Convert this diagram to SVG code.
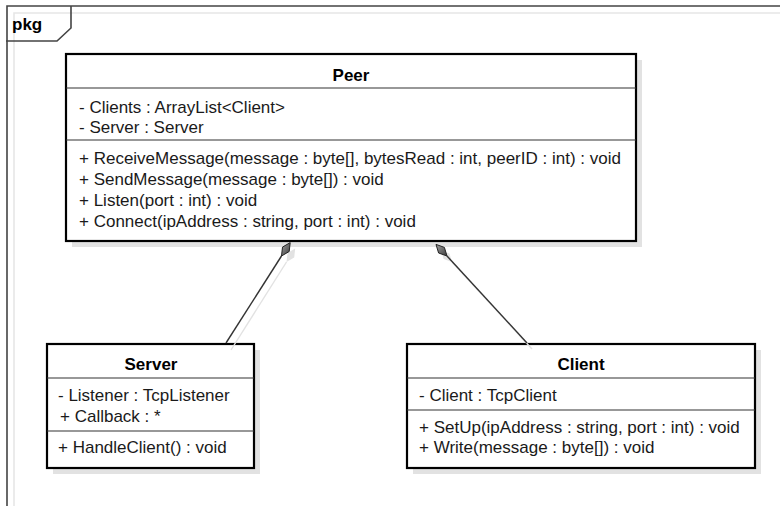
<svg xmlns="http://www.w3.org/2000/svg" width="780" height="506" viewBox="0 0 780 506">
  <style>
    .shadow { fill: #e2e2e2; stroke: none; }
    .box { fill: #ffffff; stroke: #000000; stroke-width: 2.2; }
    .div { stroke: #333333; stroke-width: 1.2; }
    .title { font-family: "Liberation Sans", Arial, sans-serif; font-size: 17px; font-weight: bold; fill: #000; text-anchor: middle; }
    .member { font-family: "Liberation Sans", Arial, sans-serif; font-size: 17px; fill: #1a1a1a; }
    .frame { fill: none; stroke: #444444; stroke-width: 1.6; }
    .frame-shadow { fill: none; stroke: #e6e6e6; stroke-width: 1.6; }
    .assoc { stroke: #333333; stroke-width: 1.4; fill: none; }
    .assoc-shadow { stroke: #e2e2e2; stroke-width: 1.4; fill: none; }
    .diamond { fill: url(#diamondFill); stroke: #222222; stroke-width: 1; }
    .diamond-shadow { fill: #e2e2e2; stroke: none; }
  </style>
  <defs>
    <linearGradient id="diamondFill" x1="0" y1="0" x2="1" y2="1">
      <stop offset="0" stop-color="#a0a0a0"/>
      <stop offset="1" stop-color="#3a3a3a"/>
    </linearGradient>
  </defs>

  <rect width="780" height="506" fill="#ffffff"/>

  <!-- package frame -->
  <g id="package">
    <path class="frame-shadow" d="M14,520 V13 H790"/>
    <path class="frame" d="M7,520 V6 H790"/>
    <path class="frame" d="M6,41 H57 L71,28 V6"/>
    <text x="12" y="30" style="font-family:'Liberation Sans',Arial,sans-serif;font-size:17px;font-weight:bold;fill:#000">pkg</text>
  </g>

  <!-- Peer -->
  <g id="peer">
    <rect class="shadow" x="72" y="60" width="570" height="187"/>
    <rect class="box" x="66" y="54" width="570" height="187"/>
    <line class="div" x1="66" y1="88" x2="636" y2="88"/>
    <line class="div" x1="66" y1="140" x2="636" y2="140"/>
    <text class="title" x="351" y="80.5">Peer</text>
    <text class="member" x="79" y="112.5">- Clients : ArrayList&lt;Client&gt;</text>
    <text class="member" x="79" y="133">- Server : Server</text>
    <text class="member" x="79" y="163.5">+ ReceiveMessage(message : byte[], bytesRead : int, peerID : int) : void</text>
    <text class="member" x="79" y="184.5">+ SendMessage(message : byte[]) : void</text>
    <text class="member" x="79" y="205.5">+ Listen(port : int) : void</text>
    <text class="member" x="79" y="226.5">+ Connect(ipAddress : string, port : int) : void</text>
  </g>

  <!-- Server -->
  <g id="server">
    <rect class="shadow" x="53" y="350" width="207" height="124"/>
    <rect class="box" x="47" y="344" width="207" height="124"/>
    <line class="div" x1="47" y1="378" x2="254" y2="378"/>
    <line class="div" x1="47" y1="431" x2="254" y2="431"/>
    <text class="title" x="151" y="370">Server</text>
    <text class="member" x="58" y="401">- Listener : TcpListener</text>
    <text class="member" x="60" y="422">+ Callback : *</text>
    <text class="member" x="58" y="453">+ HandleClient() : void</text>
  </g>

  <!-- Client -->
  <g id="client">
    <rect class="shadow" x="413" y="350" width="348" height="124"/>
    <rect class="box" x="407" y="344" width="348" height="124"/>
    <line class="div" x1="407" y1="378" x2="755" y2="378"/>
    <line class="div" x1="407" y1="410" x2="755" y2="410"/>
    <text class="title" x="581" y="370">Client</text>
    <text class="member" x="419" y="401">- Client : TcpClient</text>
    <text class="member" x="419" y="433">+ SetUp(ipAddress : string, port : int) : void</text>
    <text class="member" x="419" y="453">+ Write(message : byte[]) : void</text>
  </g>

  <!-- associations (composition, diamond at Peer); drawn above the box shadows -->
  <g id="connectors">
    <line class="assoc-shadow" x1="286.5" y1="262" x2="231" y2="350"/>
    <polygon class="diamond-shadow" points="295.2,248.6 294.2,257.5 286.5,262 287.5,253.1"/>
    <line class="assoc-shadow" x1="452" y1="262" x2="532" y2="349"/>
    <polygon class="diamond-shadow" points="441,250.4 449.4,253.4 452,262 443.6,259"/>

    <line class="assoc" x1="281.5" y1="256" x2="226" y2="343"/>
    <polygon class="diamond" points="290.2,242.6 289.2,251.5 281.5,256 282.5,247.1"/>
    <line class="assoc" x1="447" y1="256" x2="527" y2="343"/>
    <polygon class="diamond" points="436,244.4 444.4,247.4 447,256 438.6,253"/>
  </g>
</svg>
